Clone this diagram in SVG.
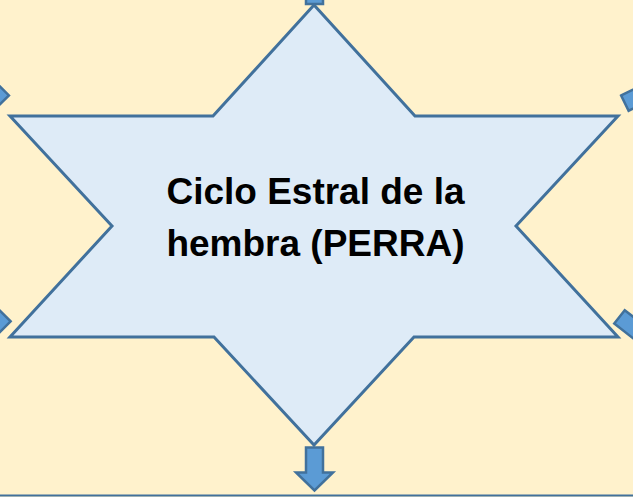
<svg xmlns="http://www.w3.org/2000/svg" width="633" height="497" viewBox="0 0 633 497">
  <style>
    .arrow { fill: #5B9BD5; stroke: #41719C; stroke-width: 2.5; stroke-linejoin: miter; }
    .star { fill: #DEEBF7; stroke: #41719C; stroke-width: 3; stroke-linejoin: miter; }
    .label { font-family: "Liberation Sans", Arial, sans-serif; font-weight: bold; font-size: 37px; fill: #000000; }
  </style>
  <defs>
    <path id="blockArrow" d="M0,-8.5 L25,-8.5 L25,-18.5 L43,0 L25,18.5 L25,8.5 L0,8.5 Z"/>
    <path id="longArrow" d="M0,-8.5 L60,-8.5 L60,-18.5 L78,0 L60,18.5 L60,8.5 L0,8.5 Z"/>
  </defs>
  <rect x="0" y="0" width="633" height="497" fill="#FFF2CC"/>
  <g id="connectors">
    <use href="#longArrow" class="arrow" transform="translate(314.5,4) rotate(-90)"/>
    <use href="#blockArrow" class="arrow" transform="translate(314.5,447.5) rotate(90)"/>
    <use href="#longArrow" class="arrow" transform="translate(2.9,101.4) rotate(-135)"/>
    <use href="#longArrow" class="arrow" transform="translate(4.6,315.3) rotate(135)"/>
    <use href="#longArrow" class="arrow" transform="translate(624.9,103.1) rotate(-26)"/>
    <use href="#longArrow" class="arrow" transform="translate(619.5,316.9) rotate(38)"/>
    <line x1="0" y1="495.5" x2="633" y2="495.5" stroke="#41719C" stroke-width="2"/>
  </g>
  <g id="node-star">
    <polygon class="star" points="314,5 213,116 10,116 112,226 10,337 214,337 314,445 414,337 618,337 516,226 618,116 415,116"/>
    <text class="label" x="315.5" y="204" text-anchor="middle">Ciclo Estral de la</text>
    <text class="label" x="315.5" y="256" text-anchor="middle">hembra (PERRA)</text>
  </g>
</svg>
